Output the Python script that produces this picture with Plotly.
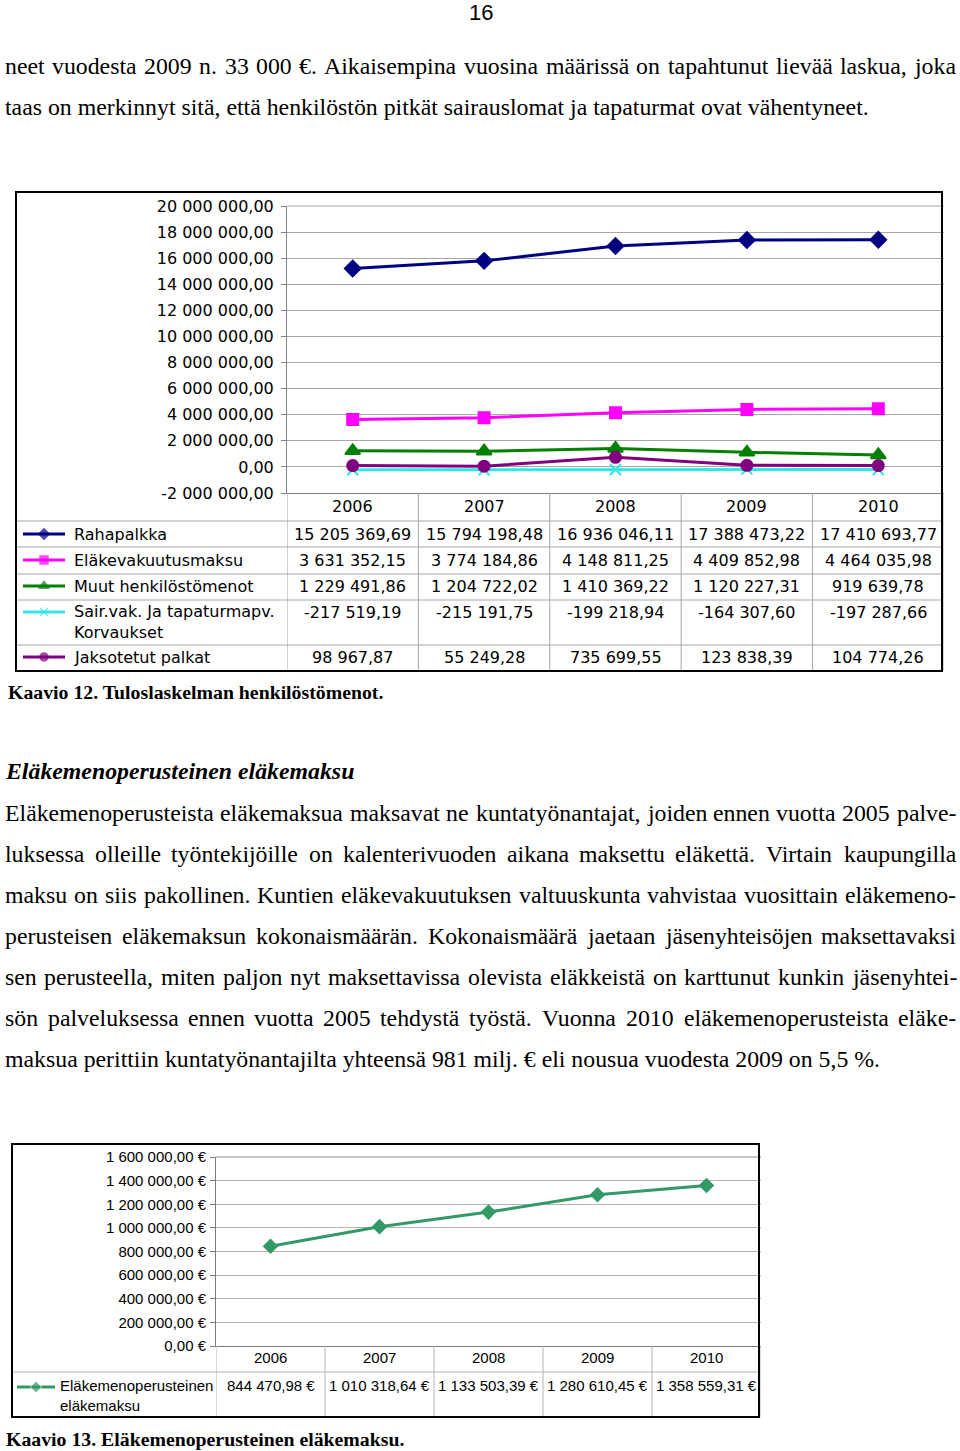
import glob
import os
import struct
import plotly.graph_objects as go

W, H = 960, 1451

# ---------------- data ----------------
years = ["2006", "2007", "2008", "2009", "2010"]

s1_names = ["Rahapalkka", "Eläkevakuutusmaksu", "Muut henkilöstömenot",
            "Sair.vak. Ja tapaturmapv.<br>Korvaukset", "Jaksotetut palkat"]
rahapalkka = [15205369.69, 15794198.48, 16936046.11, 17388473.22, 17410693.77]
elakevakuutusmaksu = [3631352.15, 3774184.86, 4148811.25, 4409852.98, 4464035.98]
muut_henkilostomenot = [1229491.86, 1204722.02, 1410369.22, 1120227.31, 919639.78]
sairvak_korvaukset = [-217519.19, -215191.75, -199218.94, -164307.60, -197287.66]
jaksotetut_palkat = [98967.87, 55249.28, 735699.55, 123838.39, 104774.26]

y1_tickvals = [-2e6, 0, 2e6, 4e6, 6e6, 8e6, 10e6, 12e6, 14e6, 16e6, 18e6, 20e6]
y1_ticktext = ["-2 000 000,00", "0,00", "2 000 000,00", "4 000 000,00", "6 000 000,00",
               "8 000 000,00", "10 000 000,00", "12 000 000,00", "14 000 000,00",
               "16 000 000,00", "18 000 000,00", "20 000 000,00"]

s2_name = "Eläkemenoperusteinen<br>eläkemaksu"
elakemenoperusteinen = [844470.98, 1010318.64, 1133503.39, 1280610.45, 1358559.31]
y2_tickvals = [0, 200000, 400000, 600000, 800000, 1000000, 1200000, 1400000, 1600000]
y2_ticktext = ["0,00 €", "200 000,00 €", "400 000,00 €", "600 000,00 €", "800 000,00 €",
               "1 000 000,00 €", "1 200 000,00 €", "1 400 000,00 €", "1 600 000,00 €"]

page_number = "16"
para1 = [
    "neet vuodesta 2009 n. 33 000 €. Aikaisempina vuosina määrissä on tapahtunut lievää laskua, joka",
    "taas on merkinnyt sitä, että henkilöstön pitkät sairauslomat ja tapaturmat ovat vähentyneet.",
]
heading = "Eläkemenoperusteinen eläkemaksu"
para2 = [
    "Eläkemenoperusteista eläkemaksua maksavat ne kuntatyönantajat, joiden ennen vuotta 2005 palve-",
    "luksessa olleille työntekijöille on kalenterivuoden aikana maksettu eläkettä. Virtain kaupungilla",
    "maksu on siis pakollinen. Kuntien eläkevakuutuksen valtuuskunta vahvistaa vuosittain eläkemeno-",
    "perusteisen eläkemaksun kokonaismäärän. Kokonaismäärä jaetaan jäsenyhteisöjen maksettavaksi",
    "sen perusteella, miten paljon nyt maksettavissa olevista eläkkeistä on karttunut kunkin jäsenyhtei-",
    "sön palveluksessa ennen vuotta 2005 tehdystä työstä. Vuonna 2010 eläkemenoperusteista eläke-",
    "maksua perittiin kuntatyönantajilta yhteensä 981 milj. € eli nousua vuodesta 2009 on 5,5 %.",
]
caption1 = "Kaavio 12. Tuloslaskelman henkilöstömenot."
caption2 = "Kaavio 13. Eläkemenoperusteinen eläkemaksu."


def fmt_num(v, suffix=""):
    s = f"{abs(v):,.2f}".replace(",", " ").replace(".", ",")
    return ("-" if v < 0 else "") + s + suffix


# ---------------- font metrics (for justified text) ----------------
def load_widths(fname):
    paths = []
    for base in ["/usr/share/fonts", "/usr/local/share/fonts", os.path.expanduser("~/.fonts")]:
        paths += glob.glob(os.path.join(base, "**", fname), recursive=True)
    if not paths:
        return None
    try:
        data = open(paths[0], "rb").read()
        n = struct.unpack(">H", data[4:6])[0]
        tables = {}
        for i in range(n):
            tag, _, off, ln = struct.unpack(">4sIII", data[12 + 16 * i:28 + 16 * i])
            tables[tag.decode("latin1")] = off
        upem = struct.unpack(">H", data[tables["head"] + 18:tables["head"] + 20])[0]
        nhm = struct.unpack(">H", data[tables["hhea"] + 34:tables["hhea"] + 36])[0]
        hm = tables["hmtx"]
        adv = [struct.unpack(">H", data[hm + 4 * i:hm + 4 * i + 2])[0] for i in range(nhm)]
        cm = tables["cmap"]
        nsub = struct.unpack(">H", data[cm + 2:cm + 4])[0]
        o = None
        for i in range(nsub):
            pid, eid, off = struct.unpack(">HHI", data[cm + 4 + 8 * i:cm + 12 + 8 * i])
            fmt = struct.unpack(">H", data[cm + off:cm + off + 2])[0]
            if fmt == 4 and (o is None or (pid == 3 and eid == 1)):
                o = cm + off
        seg2 = struct.unpack(">H", data[o + 6:o + 8])[0]
        seg = seg2 // 2
        ends = struct.unpack(">%dH" % seg, data[o + 14:o + 14 + seg2])
        starts = struct.unpack(">%dH" % seg, data[o + 16 + seg2:o + 16 + 2 * seg2])
        deltas = struct.unpack(">%dh" % seg, data[o + 16 + 2 * seg2:o + 16 + 3 * seg2])
        rpos = o + 16 + 3 * seg2
        roffs = struct.unpack(">%dH" % seg, data[rpos:rpos + seg2])

        def gid(c):
            for i in range(seg):
                if ends[i] >= c:
                    if starts[i] > c:
                        return 0
                    if roffs[i] == 0:
                        return (c + deltas[i]) & 0xFFFF
                    a = rpos + 2 * i + roffs[i] + 2 * (c - starts[i])
                    g = struct.unpack(">H", data[a:a + 2])[0]
                    return (g + deltas[i]) & 0xFFFF if g else 0
            return 0

        def width(s, size):
            t = 0
            for ch in s:
                g = gid(ord(ch))
                t += adv[min(g, nhm - 1)]
            return t * size / upem
        return width
    except Exception:
        return None


serif_width = load_widths("LiberationSerif-Regular.ttf")

SERIF = "Liberation Serif"
SANS1 = "DejaVu Sans"
SANS2 = "Liberation Sans"
PARA_SIZE = 23.8
T1 = 16      # chart 1 text size
T2 = 15      # chart 2 text size

fig = go.Figure()
annotations = []
shapes = []


def ann(x, y, text, size, family, xanchor="left", yanchor="middle",
        xref="x3", yref="y3", color="black"):
    annotations.append(dict(x=x, y=y, xref=xref, yref=yref, text=text, showarrow=False,
                            xanchor=xanchor, yanchor=yanchor, align="left",
                            borderpad=0, borderwidth=0,
                            font=dict(family=family, size=size, color=color)))


def line(x0, y0, x1, y1, color, width=1, xref="x3", yref="y3"):
    shapes.append(dict(type="line", x0=x0, y0=y0, x1=x1, y1=y1, xref=xref, yref=yref,
                       line=dict(color=color, width=width), layer="above"))


def text_line(txt, y, x0, x1, justify):
    if justify and serif_width is not None:
        words = txt.split(" ")
        ws = [serif_width(w, PARA_SIZE) for w in words]
        gap = (x1 - x0 - sum(ws)) / (len(words) - 1)
        x = x0
        for w, wd in zip(words, ws):
            ann(x, y, w, PARA_SIZE, SERIF)
            x += wd + gap
    else:
        ann(x0, y, txt, PARA_SIZE, SERIF)


# ---------------- page text ----------------
ann(481, 0, page_number, 22, SANS2, xanchor="center", yanchor="top")
p1_y = [66, 107]
for i, t in enumerate(para1):
    text_line(t, p1_y[i], 5, 955, i < len(para1) - 1)
ann(5, 771, "<b><i>" + heading + "</i></b>", 23.8, SERIF)
p2_y = [813, 854, 895, 936, 977, 1018, 1059]
for i, t in enumerate(para2):
    text_line(t, p2_y[i], 5, 956, i < len(para2) - 1)
ann(8, 692, "<b>" + caption1 + "</b>", 19.8, SERIF)
ann(6, 1439, "<b>" + caption2 + "</b>", 19.8, SERIF)

# ---------------- chart 1 ----------------
s1_values = [rahapalkka, elakevakuutusmaksu, muut_henkilostomenot, sairvak_korvaukset, jaksotetut_palkat]
s1_colors = ["#000080", "#ff00ff", "#008000", "#33e6e6", "#800080"]
s1_symbols = ["diamond", "square", "triangle-up", "x-thin", "circle"]
s1_msize = [12, 11, 13, 11, 11]
s1_leg_msize = [8, 8, 9, 8, 8]
row_y = [534, 560, 586, 612, 657]

for vals, col, sym, ms in zip(s1_values, s1_colors, s1_symbols, s1_msize):
    fig.add_trace(go.Scatter(
        x=years, y=vals, mode="lines+markers", xaxis="x", yaxis="y",
        line=dict(color=col, width=3),
        marker=dict(symbol=sym, size=ms, color=col, line=dict(color=col, width=2)),
        showlegend=False, hoverinfo="skip"))

# table of chart 1
GRID1 = "#a6a6a6"
for k in range(6):
    line(k - 0.5, 493, k - 0.5, 671, GRID1, 1, xref="x")
for yy in [521, 547, 574, 600, 645]:
    line(16, yy, 942, yy, GRID1, 1)
for c, yv in enumerate(years):
    ann(c, 506, yv, T1, SANS1, xanchor="center", xref="x")
for r, (name, vals, col, sym, ms) in enumerate(zip(s1_names, s1_values, s1_colors, s1_symbols, s1_leg_msize)):
    ylab = row_y[r] + (10 if "<br>" in name else 0)
    ann(74, ylab, name, T1, SANS1)
    fig.add_trace(go.Scatter(
        x=[23, 44, 65], y=[row_y[r]] * 3, mode="lines+markers", xaxis="x3", yaxis="y3",
        line=dict(color=col, width=3),
        marker=dict(symbol=sym, size=[0, ms, 0], color=col, line=dict(color=col, width=1.5)),
        showlegend=False, hoverinfo="skip"))
    for c, v in enumerate(vals):
        ann(c, row_y[r], fmt_num(v), T1, SANS1, xanchor="center", xref="x")
line(287, 206, 944, 206, GRID1, 1)
shapes.append(dict(type="rect", x0=16, y0=192, x1=942, y1=671, xref="x3", yref="y3",
                   line=dict(color="black", width=2), layer="above"))

# ---------------- chart 2 ----------------
col2 = "#339966"
fig.add_trace(go.Scatter(
    x=years, y=elakemenoperusteinen, mode="lines+markers", xaxis="x2", yaxis="y2",
    line=dict(color=col2, width=3),
    marker=dict(symbol="diamond", size=12, color=col2),
    showlegend=False, hoverinfo="skip"))
GRID2 = "#b4b4b4"
for k in range(6):
    line(k - 0.5, 1346, k - 0.5, 1417, GRID2, 1, xref="x2")
line(12, 1372, 759, 1372, GRID2, 1)
line(216, 1157, 761, 1157, "#8c8c8c", 1)
for c, yv in enumerate(years):
    ann(c, 1357, yv, T2, SANS2, xanchor="center", xref="x2")
for c, v in enumerate(elakemenoperusteinen):
    ann(c, 1385, fmt_num(v, " €"), T2, SANS2, xanchor="center", xref="x2")
ann(60, 1395, s2_name, T2, SANS2)
fig.add_trace(go.Scatter(
    x=[17, 36, 55], y=[1387] * 3, mode="lines+markers", xaxis="x3", yaxis="y3",
    line=dict(color=col2, width=3),
    marker=dict(symbol="diamond", size=[0, 9, 0], color=col2),
    showlegend=False, hoverinfo="skip"))
shapes.append(dict(type="rect", x0=12, y0=1144, x1=759, y1=1417, xref="x3", yref="y3",
                   line=dict(color="black", width=2), layer="above"))


def dom_x(a, b):
    return [a / W, b / W]


def dom_y(top, bottom):
    return [1 - bottom / H, 1 - top / H]


fig.update_layout(
    width=W, height=H, autosize=False,
    margin=dict(l=0, r=0, t=0, b=0, pad=0, autoexpand=False),
    paper_bgcolor="white", plot_bgcolor="rgba(0,0,0,0)",
    font=dict(family=SANS1, color="black"),
    showlegend=False,
    xaxis=dict(domain=dom_x(287, 944), anchor="y", type="category", range=[-0.5, 4.5],
               showticklabels=False, showgrid=False, zeroline=False, showline=True,
               linecolor="#808080", linewidth=1, ticks="", fixedrange=True, automargin=False),
    yaxis=dict(domain=dom_y(206, 493), anchor="x", range=[-2e6, 20e6],
               tickvals=y1_tickvals, ticktext=y1_ticktext, showgrid=True, gridcolor=GRID1,
               gridwidth=1, zeroline=False, showline=True, linecolor="#808080", linewidth=1,
               ticks="outside", ticklen=5, tickcolor="#808080", ticklabelstandoff=4,
               tickfont=dict(family=SANS1, size=T1, color="black"), fixedrange=True,
               automargin=False),
    xaxis2=dict(domain=dom_x(216, 761), anchor="y2", type="category", range=[-0.5, 4.5],
                showticklabels=False, showgrid=False, zeroline=False, showline=True,
                linecolor="#7a7a7a", linewidth=1, ticks="", fixedrange=True, automargin=False),
    yaxis2=dict(domain=dom_y(1157, 1346), anchor="x2", range=[0, 1.6e6],
                tickvals=y2_tickvals, ticktext=y2_ticktext, showgrid=True, gridcolor=GRID2,
                gridwidth=1, zeroline=False, showline=True, linecolor="#7a7a7a", linewidth=1,
                ticks="outside", ticklen=5, tickcolor="#7a7a7a", ticklabelstandoff=1,
                tickfont=dict(family=SANS2, size=T2, color="black"), fixedrange=True,
                automargin=False),
    xaxis3=dict(domain=[0, 1], anchor="y3", range=[0, W], visible=False, fixedrange=True,
                automargin=False, showticklabels=False),
    yaxis3=dict(domain=[0, 1], anchor="x3", range=[H, 0], visible=False, fixedrange=True,
                automargin=False, showticklabels=False),
    annotations=annotations,
    shapes=shapes,
)

fig.write_html("out.html")
